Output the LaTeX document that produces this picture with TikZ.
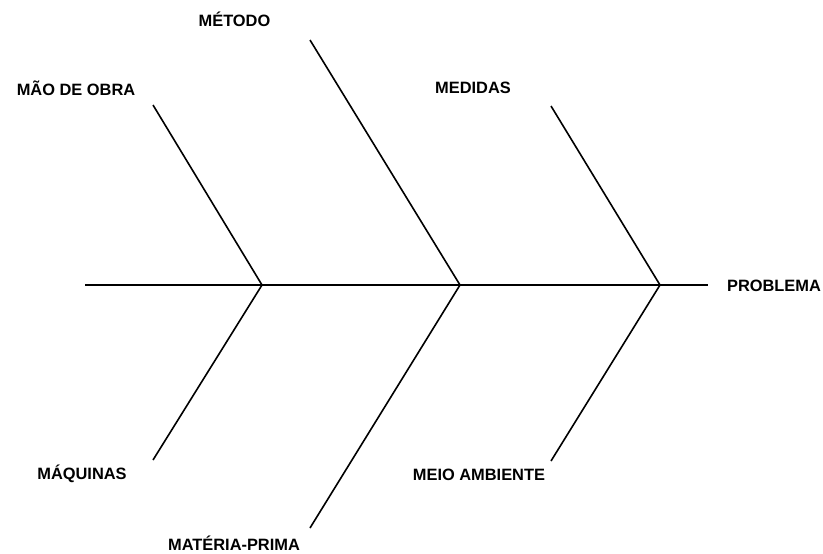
\documentclass[tikz,border=0pt]{standalone}
\usepackage{fontspec}
\setmainfont{Liberation Sans}
\begin{document}
\begin{tikzpicture}[x=1pt,y=-1pt,
  lbl/.style={anchor=base,inner sep=0pt,font=\bfseries\fontsize{16.4}{19}\selectfont},
  bone/.style={line width=1.6pt,black}]
\useasboundingbox (0,0) rectangle (823,554);
\coordinate (tail) at (85,285);
\coordinate (j1) at (262,285);
\coordinate (j2) at (460,285);
\coordinate (j3) at (660,285);
\coordinate (head) at (708,285);
\coordinate (t1) at (153,105);
\coordinate (t2) at (310,40);
\coordinate (t3) at (551,106);
\coordinate (b1) at (153,460);
\coordinate (b2) at (310,528);
\coordinate (b3) at (551,461);
\draw[bone] (tail) -- (head);
\draw[bone] (t1) -- (j1) -- (b1);
\draw[bone] (t2) -- (j2) -- (b2);
\draw[bone] (t3) -- (j3) -- (b3);
\node[lbl] (problema) at (774,291) {PROBLEMA};
\node[lbl] (maodeobra) at (76,95) {MÃO DE OBRA};
\node[lbl] (metodo) at (234.5,27) {MÉTODO};
\node[lbl] (medidas) at (473,93) {MEDIDAS};
\node[lbl] (maquinas) at (82,479) {MÁQUINAS};
\node[lbl] (materia) at (234,550) {MATÉRIA-PRIMA};
\node[lbl] (meio) at (479,480) {MEIO AMBIENTE};
\end{tikzpicture}
\end{document}
